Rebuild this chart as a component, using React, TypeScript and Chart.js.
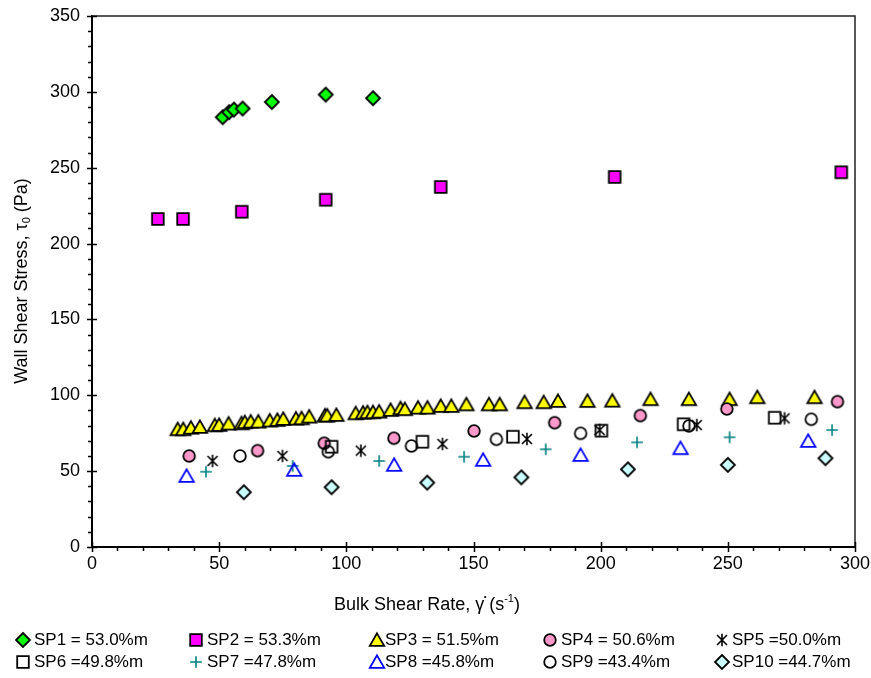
import React, { useEffect, useRef } from 'react';
import { Chart, registerables } from 'chart.js';

Chart.register(...registerables);

// Bulk shear rate (1/s) and wall shear stress (Pa) for each sample
const sp1Rate = [51.4, 53.9, 55.8, 59.2, 70.7, 91.9, 110.5];
const sp1Stress = [283.3, 286.6, 288.3, 289.0, 293.3, 298.2, 295.8];

const sp2Rate = [25.9, 35.8, 58.9, 91.9, 137.1, 205.5, 294.6];
const sp2Stress = [216.2, 216.2, 221.0, 228.9, 237.3, 243.9, 247.0];

const sp3Rate = [
  33.7, 35.9, 38.9, 42.4, 48.3, 50.0, 53.7, 58.8, 60.1, 62.4, 65.4, 69.9, 72.9, 75.2, 80.2,
  82.4, 85.4, 91.6, 92.5, 96.1, 103.7, 106.6, 108.3, 110.5, 112.9, 117.4, 121.3, 123.0, 128.2,
  131.9, 137.1, 141.3, 147.2, 156.1, 160.3, 170.1, 177.6, 183.2, 194.8, 204.6, 219.6, 234.7,
  250.7, 261.6, 284.1,
];
const sp3Stress = [
  77.6, 77.6, 78.6, 79.1, 80.2, 80.4, 81.3, 81.5, 82.2, 82.6, 82.6, 83.3, 83.7, 84.4, 84.6,
  84.8, 85.9, 86.6, 86.6, 87.0, 88.1, 88.5, 88.8, 88.8, 89.2, 90.3, 91.4, 90.8, 91.8,
  91.8, 92.9, 92.9, 94.0, 94.0, 94.0, 95.4, 95.4, 96.2, 96.2, 96.4, 97.4, 97.4,
  97.4, 98.7, 98.7,
];

const sp4Rate = [38.2, 65.1, 91.3, 118.7, 150.2, 181.9, 215.6, 249.6, 293.1];
const sp4Stress = [60.0, 63.5, 68.4, 71.7, 76.5, 81.9, 86.6, 91.0, 95.8];

const sp5Rate = [47.4, 74.9, 105.7, 137.8, 171.0, 199.6, 237.8, 272.3];
const sp5Stress = [56.7, 60.0, 63.5, 67.9, 71.2, 77.1, 80.4, 84.8];

const sp6Rate = [94.2, 129.9, 165.5, 200.3, 232.6, 268.4];
const sp6Stress = [66.1, 69.4, 72.7, 76.7, 80.9, 85.2];

const sp7Rate = [44.8, 78.9, 112.9, 146.3, 178.4, 214.3, 250.7, 291.0];
const sp7Stress = [49.6, 53.4, 56.7, 59.5, 64.4, 69.0, 72.3, 77.1];

const sp8Rate = [37.2, 79.5, 118.8, 153.8, 192.1, 231.4, 281.6];
const sp8Stress = [46.8, 50.8, 54.1, 57.4, 60.6, 65.1, 69.9];

const sp9Rate = [58.2, 92.9, 125.6, 159.0, 192.1, 234.7, 282.8];
const sp9Stress = [60.0, 62.8, 66.6, 71.0, 74.9, 79.8, 84.2];

const sp10Rate = [59.7, 94.2, 131.8, 168.8, 210.7, 250.0, 288.4];
const sp10Stress = [36.1, 39.4, 42.4, 45.9, 51.2, 54.1, 58.5];

const seriesLabels = [
  'SP1 = 53.0%m',
  'SP2 = 53.3%m',
  'SP3 = 51.5%m',
  'SP4 = 50.6%m',
  'SP5 =50.0%m',
  'SP6 =49.8%m',
  'SP7 =47.8%m',
  'SP8 =45.8%m',
  'SP9 =43.4%m',
  'SP10 =44.7%m',
];

const xTickStep = 50;
const yTickStep = 50;
const minorStep = 10;

const FONT = '"Liberation Sans", Arial, sans-serif';
const TICK_SIZE = 18;
const TITLE_SIZE = 18;
const LEGEND_SIZE = 17;

type MarkerKind = 'diamond' | 'square' | 'triangle' | 'circle' | 'asterisk' | 'plus';

function makeMarker(kind: MarkerKind, fill: string | null, stroke: string): HTMLCanvasElement {
  const size = 20;
  const c = size / 2;
  const cv = document.createElement('canvas');
  cv.width = size;
  cv.height = size;
  const ctx = cv.getContext('2d')!;
  ctx.lineWidth = 1.8;
  ctx.strokeStyle = stroke;
  ctx.lineJoin = 'miter';
  ctx.beginPath();
  switch (kind) {
    case 'diamond':
      ctx.moveTo(c, c - 7);
      ctx.lineTo(c + 7, c);
      ctx.lineTo(c, c + 7);
      ctx.lineTo(c - 7, c);
      ctx.closePath();
      break;
    case 'square':
      ctx.rect(c - 5.8, c - 5.8, 11.6, 11.6);
      break;
    case 'triangle':
      ctx.moveTo(c, c - 6.6);
      ctx.lineTo(c + 7.2, c + 5.9);
      ctx.lineTo(c - 7.2, c + 5.9);
      ctx.closePath();
      break;
    case 'circle':
      ctx.arc(c, c, 5.8, 0, Math.PI * 2);
      break;
    case 'asterisk':
      ctx.lineWidth = 1.6;
      ctx.moveTo(c, c - 6.2);
      ctx.lineTo(c, c + 6.2);
      ctx.moveTo(c - 5, c - 5);
      ctx.lineTo(c + 5, c + 5);
      ctx.moveTo(c + 5, c - 5);
      ctx.lineTo(c - 5, c + 5);
      break;
    case 'plus':
      ctx.lineWidth = 1.6;
      ctx.moveTo(c, c - 5.8);
      ctx.lineTo(c, c + 5.8);
      ctx.moveTo(c - 5.8, c);
      ctx.lineTo(c + 5.8, c);
      break;
  }
  if (fill) {
    ctx.fillStyle = fill;
    ctx.fill();
  }
  ctx.stroke();
  return cv;
}

export default function App() {
  const canvasRef = useRef<HTMLCanvasElement | null>(null);

  useEffect(() => {
    document.body.style.margin = '0';
    const canvas = canvasRef.current;
    if (!canvas) return;

    const markers = [
      makeMarker('diamond', '#00FF00', '#000000'),
      makeMarker('square', '#FF00FF', '#000000'),
      makeMarker('triangle', '#FFFF00', '#000000'),
      makeMarker('circle', '#FF99CC', '#000000'),
      makeMarker('asterisk', null, '#000000'),
      makeMarker('square', null, '#000000'),
      makeMarker('plus', null, '#008080'),
      makeMarker('triangle', null, '#0000FF'),
      makeMarker('circle', null, '#000000'),
      makeMarker('diamond', '#CCFFFF', '#000000'),
    ];

    const rates = [sp1Rate, sp2Rate, sp3Rate, sp4Rate, sp5Rate, sp6Rate, sp7Rate, sp8Rate, sp9Rate, sp10Rate];
    const stresses = [
      sp1Stress, sp2Stress, sp3Stress, sp4Stress, sp5Stress,
      sp6Stress, sp7Stress, sp8Stress, sp9Stress, sp10Stress,
    ];

    const datasets = seriesLabels.map((label, i) => ({
      label,
      data: rates[i].map((x, j) => ({ x, y: stresses[i][j] })),
      pointStyle: markers[i],
      pointRadius: 6,
      showLine: false,
      order: seriesLabels.length - i,
    }));

    // Axis tick marks, frame, axis titles and the legend
    const decorations = {
      id: 'decorations',
      afterDraw(chart: Chart) {
        const ctx = chart.ctx;
        const { left, right, top, bottom } = chart.chartArea;
        const xs = chart.scales.x;
        const ys = chart.scales.y;
        ctx.save();

        // frame on top and right
        ctx.strokeStyle = '#222';
        ctx.lineWidth = 1.5;
        ctx.beginPath();
        ctx.moveTo(left, top);
        ctx.lineTo(right, top);
        ctx.lineTo(right, bottom);
        ctx.stroke();

        // tick marks
        ctx.strokeStyle = '#000';
        ctx.lineWidth = 1.5;
        ctx.beginPath();
        for (let v = xs.min; v <= xs.max; v += minorStep) {
          const px = Math.round(xs.getPixelForValue(v)) + 0.5;
          if (v % xTickStep === 0) {
            ctx.moveTo(px, bottom - 5);
            ctx.lineTo(px, bottom + 5);
          } else {
            ctx.moveTo(px, bottom);
            ctx.lineTo(px, bottom + 4);
          }
        }
        for (let v = ys.min; v <= ys.max; v += minorStep) {
          const py = Math.round(ys.getPixelForValue(v)) + 0.5;
          if (v % yTickStep === 0) {
            ctx.moveTo(left - 5, py);
            ctx.lineTo(left + 5, py);
          } else {
            ctx.moveTo(left - 4, py);
            ctx.lineTo(left, py);
          }
        }
        ctx.stroke();

        ctx.fillStyle = '#000';
        const main = `${TITLE_SIZE}px ${FONT}`;
        const small = `${Math.round(TITLE_SIZE * 0.62)}px ${FONT}`;

        // y-axis title: Wall Shear Stress, τ0 (Pa)
        {
          const partA = 'Wall Shear Stress, \u03C4';
          const sub = '0';
          const partB = ' (Pa)';
          ctx.font = main;
          const wA = ctx.measureText(partA).width;
          const wB = ctx.measureText(partB).width;
          ctx.font = small;
          const wS = ctx.measureText(sub).width;
          const total = wA + wS + wB;
          ctx.save();
          ctx.translate(22, 281);
          ctx.rotate(-Math.PI / 2);
          ctx.textBaseline = 'middle';
          ctx.textAlign = 'left';
          let x0 = -total / 2;
          ctx.font = main;
          ctx.fillText(partA, x0, 0);
          x0 += wA;
          ctx.font = small;
          ctx.fillText(sub, x0, 5);
          x0 += wS;
          ctx.font = main;
          ctx.fillText(partB, x0, 0);
          ctx.restore();
        }

        // x-axis title: Bulk Shear Rate, γ̇ (s-1)
        {
          const partA = 'Bulk Shear Rate, \u03B3';
          const partB = ' (s';
          const sup = '-1';
          const partC = ')';
          ctx.font = main;
          const wA = ctx.measureText(partA).width;
          const wB = ctx.measureText(partB).width;
          const wC = ctx.measureText(partC).width;
          ctx.font = small;
          const wS = ctx.measureText(sup).width;
          const total = wA + wB + wS + wC;
          const cy = 605;
          let x0 = 427 - total / 2;
          ctx.textBaseline = 'middle';
          ctx.textAlign = 'left';
          ctx.font = main;
          ctx.fillText(partA, x0, cy);
          x0 += wA;
          // dot over gamma
          ctx.beginPath();
          ctx.arc(x0 + 1, cy - 8, 1.1, 0, Math.PI * 2);
          ctx.fill();
          ctx.fillText(partB, x0, cy);
          x0 += wB;
          ctx.font = small;
          ctx.fillText(sup, x0, cy - 6);
          x0 += wS;
          ctx.font = main;
          ctx.fillText(partC, x0, cy);
        }

        // legend, two rows of five entries
        const colMarker = [23, 196, 377, 550, 722];
        const colText = [34, 207, 385, 561, 732];
        const rowY = [640, 662];
        ctx.font = `${LEGEND_SIZE}px ${FONT}`;
        ctx.textBaseline = 'middle';
        ctx.textAlign = 'left';
        seriesLabels.forEach((label, i) => {
          const row = Math.floor(i / 5);
          const col = i % 5;
          const m = markers[i];
          ctx.drawImage(m, colMarker[col] - m.width / 2, rowY[row] - m.height / 2);
          ctx.fillText(label, colText[col], rowY[row]);
        });

        ctx.restore();
      },
    };

    const chart = new Chart(canvas, {
      type: 'scatter',
      data: { datasets },
      options: {
        animation: false,
        responsive: false,
        events: [],
        layout: { padding: { left: 0, right: 16, top: 16, bottom: 61 } },
        plugins: {
          legend: { display: false },
          tooltip: { enabled: false },
        },
        scales: {
          x: {
            type: 'linear',
            min: 0,
            max: 300,
            ticks: {
              stepSize: xTickStep,
              color: '#000',
              font: { family: FONT, size: TICK_SIZE },
              padding: 6,
              maxRotation: 0,
            },
            grid: { display: false, drawTicks: false },
            border: { display: true, color: '#000', width: 2 },
            afterFit: (s: any) => {
              s.height = 70;
              s.paddingLeft = 0;
              s.paddingRight = 0;
            },
          },
          y: {
            type: 'linear',
            min: 0,
            max: 350,
            ticks: {
              stepSize: yTickStep,
              color: '#000',
              font: { family: FONT, size: TICK_SIZE },
              padding: 12,
            },
            grid: { display: false, drawTicks: false },
            border: { display: true, color: '#000', width: 2 },
            afterFit: (s: any) => {
              s.width = 92;
              s.paddingTop = 0;
              s.paddingBottom = 0;
            },
          },
        },
      },
      plugins: [decorations],
    });

    return () => chart.destroy();
  }, []);

  return (
    <div style={{ width: 871, height: 678, background: '#fff' }}>
      <canvas ref={canvasRef} width={871} height={678} />
    </div>
  );
}
